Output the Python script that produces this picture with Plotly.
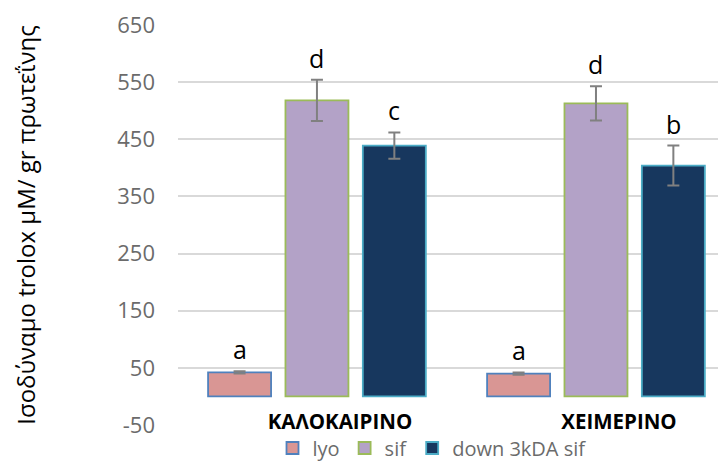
import plotly.graph_objects as go

categories = ["ΚΑΛΟΚΑΙΡΙΝΟ", "ΧΕΙΜΕΡΙΝΟ"]
series_names = ["lyo", "sif", "down 3kDA sif"]
lyo_vals = [42, 40]
lyo_err = [2, 2]
sif_vals = [518, 513]
sif_err = [36, 30]
down_vals = [439, 404]
down_err = [23, 35]
letters_lyo = ["a", "a"]
letters_sif = ["d", "d"]
letters_down = ["c", "b"]
y_ticks = [-50, 50, 150, 250, 350, 450, 550, 650]
y_tick_text = ["-50", "50", "150", "250", "350", "450", "550", "650"]

fills = ["#D99694", "#B3A2C7", "#17375E"]
borders = ["#4F81BD", "#9BBB59", "#4BACC6"]

BARGAP = 0.168
BARGROUPGAP = 0.186
FONT = "Open Sans"

# the page body has an 8px default margin; the figure is sized to fill the rest
W, H = 718, 454

fig = go.Figure()
xs = list(range(len(categories)))
all_vals = [lyo_vals, sif_vals, down_vals]
all_errs = [lyo_err, sif_err, down_err]
all_letters = [letters_lyo, letters_sif, letters_down]
for name, v, e, fc, bc in zip(series_names, all_vals, all_errs, fills, borders):
    fig.add_trace(go.Bar(
        x=xs, y=v, name=name,
        marker=dict(color=fc, line=dict(color=bc, width=1.8)),
        error_y=dict(type="data", array=e, visible=True, color="#808080",
                     thickness=2, width=6),
    ))

slot = (1 - BARGAP) / 3
for j, (v, e, lt) in enumerate(zip(all_vals, all_errs, all_letters)):
    for i in xs:
        fig.add_annotation(x=i + (j - 1) * slot, y=v[i] + e[i], text=lt[i],
                           showarrow=False, yanchor="bottom", yshift=3,
                           font=dict(family=FONT, size=25, color="#000000"))

fig.update_layout(
    width=W, height=H,
    margin=dict(l=170, r=0, t=17, b=37),
    plot_bgcolor="white", paper_bgcolor="white",
    barmode="group", bargap=BARGAP, bargroupgap=BARGROUPGAP,
    font=dict(family=FONT),
    showlegend=True,
    legend=dict(orientation="h", x=424 / W, xanchor="center", xref="container",
                y=1 - 440 / H, yanchor="middle", yref="container",
                font=dict(family=FONT, size=20, color="#6B6B6B"),
                itemwidth=30, traceorder="normal"),
)
fig.update_xaxes(
    range=[-0.498, 1.466], tickvals=xs, ticktext=categories,
    showgrid=False, zeroline=False, showline=False, ticks="",
    anchor="free", position=50 / 700, automargin=False,
    tickfont=dict(family=FONT, size=20.5, color="#000000", weight="bold"),
    ticklabelshift=23, ticklabelstandoff=11,
)
fig.update_yaxes(
    range=[-50, 650], tickvals=y_ticks, ticktext=y_tick_text,
    showgrid=True, gridcolor="#D9D9D9",
    gridwidth=1.5, zeroline=False, showline=False, ticks="",
    automargin=False,
    tickfont=dict(family=FONT, size=22, color="#6B6B6B"),
    ticklabelstandoff=22,
    title=dict(text="Ισοδύναμο trolox μΜ/ gr πρωτεΐνης", standoff=74,
               font=dict(family=FONT, size=24, color="#000000")),
)
fig.write_html("out.html")
